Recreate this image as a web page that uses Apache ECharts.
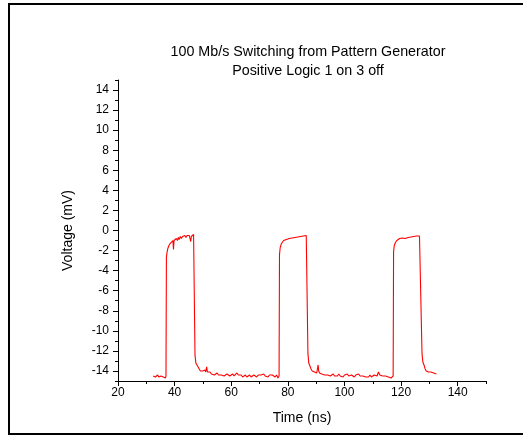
<!DOCTYPE html>
<html><head><meta charset="utf-8">
<script src="https://cdn.jsdelivr.net/npm/echarts@6/dist/echarts.min.js"></script>
<style>html,body{margin:0;padding:0;background:#fff}#c{width:523px;height:436px}</style>
</head><body><div id="c"></div>
<script>
const titleLines = ['100 Mb/s Switching from Pattern Generator', 'Positive Logic 1 on 3 off'];
const xName = 'Time (ns)';
const yName = 'Voltage (mV)';
const xMajorTicks = [20, 40, 60, 80, 100, 120, 140];
const xMinorTicks = [30, 50, 70, 90, 110, 130, 150];
const yMajorTicks = [-14, -12, -10, -8, -6, -4, -2, 0, 2, 4, 6, 8, 10, 12, 14];
const yMinorTicks = [-15, -13, -11, -9, -7, -5, -3, -1, 1, 3, 5, 7, 9, 11, 13, 15];

const timeNs = [
 32.4,32.8,33.2,33.6,34.0,34.4,34.8,35.2,35.6,36.0,36.4,36.8,36.95,
 37.1,37.3,37.6,38.0,38.4,38.8,39.1,39.4,39.6,39.8,40.2,40.6,41.0,41.3,41.6,42.0,42.4,42.8,43.2,43.6,44.0,44.4,44.8,45.2,45.5,45.7,45.9,46.3,46.7,47.0,
 47.2,47.5,47.9,48.3,48.7,49.1,49.5,49.9,50.3,50.7,51.0,51.3,51.6,52.0,52.5,53.0,53.5,54.0,54.5,55.0,55.5,56.0,56.5,57.0,57.5,58.0,58.5,59.0,59.5,60.0,
 60.5,61.0,61.5,62.0,62.5,63.0,63.5,64.0,64.5,65.0,65.5,66.0,66.5,67.0,67.5,68.0,68.5,69.0,69.5,70.0,70.5,71.0,71.5,72.0,72.5,73.0,73.5,74.0,74.5,75.0,75.5,76.0,76.5,76.9,
 77.05,77.3,77.6,78.0,78.5,79.0,79.5,80.0,80.5,81.0,81.5,82.0,82.5,83.0,83.5,84.0,84.5,85.0,85.5,86.0,86.5,86.9,
 87.1,87.4,87.8,88.2,88.6,89.0,89.4,89.8,90.2,90.5,90.7,90.9,91.2,91.5,92.0,92.5,93.0,93.5,94.0,94.5,95.0,95.5,96.0,96.5,97.0,97.5,98.0,98.5,99.0,99.5,
 100.0,100.5,101.0,101.5,102.0,102.5,103.0,103.5,104.0,104.5,105.0,105.5,106.0,106.5,107.0,107.5,108.0,108.5,109.0,109.5,110.0,110.5,111.0,111.5,112.0,112.5,113.0,113.5,114.0,114.5,115.0,115.5,116.0,116.5,117.0,117.2,
 117.35,117.6,118.0,118.5,119.0,119.5,120.0,120.5,121.0,121.5,122.0,122.5,123.0,123.5,124.0,124.5,125.0,125.5,126.0,126.5,127.0,127.2,
 127.4,127.7,128.1,128.5,128.9,129.3,129.7,130.1,130.5,131.0,131.5,132.0,132.5
];
const voltageMv = [
 -14.5,-14.4,-14.6,-14.5,-14.4,-14.6,-14.5,-14.5,-14.4,-14.6,-14.5,-14.7,-14.5,
 -2.7,-2.2,-1.8,-1.5,-1.3,-1.2,-1.3,-1.0,-1.9,-1.0,-1.1,-0.8,-1.0,-0.7,-0.9,-0.6,-0.8,-0.6,-0.7,-0.5,-0.7,-0.5,-0.6,-0.5,-0.6,-1.1,-0.6,-0.5,-0.4,-0.45,
 -12.4,-13.2,-13.4,-13.5,-13.8,-14.0,-13.9,-14.0,-14.1,-13.9,-14.1,-13.6,-14.1,-14.2,-14.1,-14.3,-14.2,-14.4,-14.3,-14.2,-14.4,-14.3,-14.4,-14.3,-14.5,-14.4,-14.3,-14.4,-14.5,-14.4,
 -14.3,-14.5,-14.4,-14.2,-14.4,-14.5,-14.4,-14.6,-14.5,-14.4,-14.6,-14.5,-14.4,-14.6,-14.5,-14.4,-14.5,-14.6,-14.4,-14.5,-14.4,-14.5,-14.3,-14.5,-14.4,-14.6,-14.4,-14.5,-14.4,-14.5,-14.6,-14.4,-14.7,-14.5,
 -2.4,-1.7,-1.4,-1.2,-1.0,-0.95,-0.9,-0.85,-0.8,-0.85,-0.75,-0.8,-0.7,-0.75,-0.65,-0.7,-0.6,-0.65,-0.55,-0.6,-0.5,-0.45,
 -12.3,-13.2,-13.5,-13.8,-14.0,-13.9,-14.1,-14.0,-14.2,-14.1,-13.4,-14.0,-14.2,-14.1,-14.3,-14.2,-14.4,-14.3,-14.4,-14.3,-14.5,-14.4,-14.3,-14.5,-14.4,-14.5,-14.3,-14.5,-14.4,-14.6,
 -14.4,-14.5,-14.3,-14.5,-14.6,-14.4,-14.5,-14.6,-14.4,-14.5,-14.3,-14.5,-14.6,-14.5,-14.4,-14.6,-14.5,-14.6,-14.4,-14.6,-14.5,-14.4,-14.3,-14.5,-14.1,-14.4,-14.3,-14.5,-14.6,-14.5,-14.4,-14.6,-14.5,-14.7,-14.6,-14.5,
 -2.1,-1.5,-1.2,-1.0,-0.9,-0.8,-0.9,-0.75,-0.85,-0.8,-0.9,-0.7,-0.8,-0.65,-0.7,-0.6,-0.65,-0.55,-0.6,-0.55,-0.5,-0.5,
 -12.3,-13.1,-13.4,-13.8,-14.0,-13.9,-14.1,-14.0,-14.1,-14.0,-14.2,-14.1,-14.3
];

const pts = timeNs.map((t, i) => [t, voltageMv[i]]);
const FONT = '"Liberation Sans", Arial, sans-serif';
const black = '#000';

const chart = echarts.init(document.getElementById('c'), null, {renderer: 'canvas'});
chart.setOption({
  animation: false,
  backgroundColor: '#fff',
  title: {
    text: titleLines.join('\n'),
    left: 303, top: 38, textAlign: 'center',
    textStyle: {fontFamily: FONT, fontSize: 14.3, fontWeight: 'normal', color: black, lineHeight: 19}
  },
  graphic: [{
    type: 'rect', silent: true,
    shape: {x: 9, y: 4, width: 540, height: 430},
    style: {fill: 'none', stroke: black, lineWidth: 2}
  }],
  grid: {left: 118, right: 37, top: 80, bottom: 55, containLabel: false},
  xAxis: [{
    type: 'value', min: 20, max: 150, position: 'bottom',
    name: xName, nameLocation: 'middle', nameGap: 30,
    nameTextStyle: {fontFamily: FONT, fontSize: 14, color: black},
    axisLine: {show: true, onZero: false, lineStyle: {color: black, width: 1}},
    axisTick: {show: true, customValues: xMajorTicks, length: 5, lineStyle: {color: black}},
    axisLabel: {customValues: xMajorTicks, fontFamily: FONT, fontSize: 12, color: black, margin: 6},
    splitLine: {show: false}
  }, {
    type: 'value', min: 20, max: 150, position: 'bottom',
    axisLine: {show: false, onZero: false},
    axisTick: {show: true, customValues: xMinorTicks, length: 3, lineStyle: {color: black}},
    axisLabel: {show: false},
    splitLine: {show: false}
  }],
  yAxis: [{
    type: 'value', min: -15, max: 15, position: 'left',
    name: yName, nameLocation: 'middle', nameGap: 43,
    nameTextStyle: {fontFamily: FONT, fontSize: 14, color: black},
    axisLine: {show: true, onZero: false, lineStyle: {color: black, width: 1}},
    axisTick: {show: true, customValues: yMajorTicks, length: 5, lineStyle: {color: black}},
    axisLabel: {customValues: yMajorTicks, fontFamily: FONT, fontSize: 12, color: black, margin: 9},
    splitLine: {show: false}
  }, {
    type: 'value', min: -15, max: 15, position: 'left',
    axisLine: {show: false, onZero: false},
    axisTick: {show: true, customValues: yMinorTicks, length: 3, lineStyle: {color: black}},
    axisLabel: {show: false},
    splitLine: {show: false}
  }],
  series: [{
    type: 'line', xAxisIndex: 0, yAxisIndex: 0,
    data: pts, showSymbol: false, symbol: 'none',
    lineStyle: {color: '#ff0000', width: 1.1}
  }]
});
</script></body></html>
